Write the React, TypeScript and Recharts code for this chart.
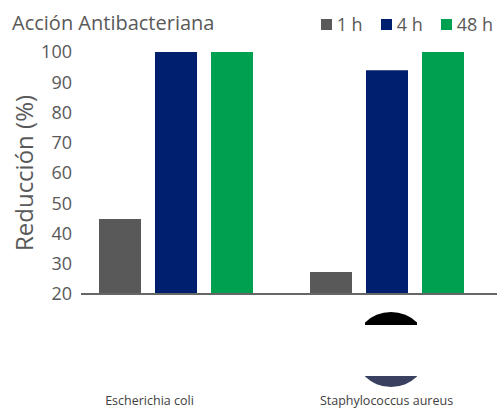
import React from "react";
import { BarChart, Bar, XAxis, YAxis, Label } from "recharts";

const categories = ["Escherichia coli", "Staphylococcus aureus"];
const series1h = [44.8, 27.3];
const series4h = [100, 94];
const series48h = [100, 100];
const yTicks = [20, 30, 40, 50, 60, 70, 80, 90, 100];
const seriesNames = ["1 h", "4 h", "48 h"];
const seriesColors = ["#595959", "#001F6E", "#00A051"];
const labelShift = [-26, 0];

const data = categories.map((c, i) => ({
  name: c,
  h1: series1h[i],
  h4: series4h[i],
  h48: series48h[i],
}));

const FONT = "'Open Sans', 'Noto Sans', sans-serif";

const CatTick = (props: any) => {
  const { x, y, payload, index } = props;
  return (
    <text
      x={x + (labelShift[index] || 0)}
      y={y + 103}
      textAnchor="middle"
      fontSize={12.5}
      fill="#404040"
      fontFamily={FONT}
    >
      {payload.value}
    </text>
  );
};

export default function App() {
  return (
    <div style={{ position: "absolute", left: 0, top: 0, width: 497, height: 408, background: "#fff" }}>
      <div
        style={{
          position: "absolute",
          left: 12,
          top: 9,
          fontFamily: FONT,
          fontSize: 20,
          color: "#595959",
          lineHeight: "28px",
          whiteSpace: "nowrap",
        }}
      >
        Acción Antibacteriana
      </div>
      <div
        style={{
          position: "absolute",
          right: 4,
          top: 14,
          display: "flex",
          alignItems: "center",
          fontFamily: FONT,
          fontSize: 18,
          color: "#595959",
        }}
      >
        {seriesNames.map((n, i) => (
          <div key={n} style={{ display: "flex", alignItems: "center", marginLeft: i === 0 ? 0 : 18 }}>
            <span style={{ width: 11, height: 11, background: seriesColors[i], display: "inline-block", marginRight: 5 }} />
            <span style={{ lineHeight: "20px" }}>{n}</span>
          </div>
        ))}
      </div>
      <BarChart
        width={497}
        height={408}
        data={data}
        margin={{ top: 52, right: 0, bottom: 0, left: 0 }}
        barSize={42}
        barGap={14}
        style={{ position: "absolute", left: 0, top: 0 }}
      >
        <XAxis
          dataKey="name"
          height={114}
          padding={{ left: -11, right: 5 }}
          axisLine={{ stroke: "#666666", strokeWidth: 2 }}
          tickLine={false}
          tick={<CatTick />}
          interval={0}
        />
        <YAxis
          width={81}
          domain={[20, 100]}
          ticks={yTicks}
          allowDataOverflow
          axisLine={false}
          tickLine={false}
          tickSize={0}
          tickMargin={9}
          tick={{ fontSize: 18, fill: "#595959", fontFamily: FONT }}
        >
          <Label
            content={() => (
              <text
                x={23}
                y={173}
                transform="rotate(-90, 23, 173)"
                textAnchor="middle"
                dominantBaseline="central"
                fontSize={24}
                fill="#595959"
                fontFamily={FONT}
              >
                Reducción (%)
              </text>
            )}
          />
        </YAxis>
        <Bar dataKey="h1" fill={seriesColors[0]} isAnimationActive={false} />
        <Bar dataKey="h4" fill={seriesColors[1]} isAnimationActive={false} />
        <Bar dataKey="h48" fill={seriesColors[2]} isAnimationActive={false} />
      </BarChart>
      <svg
        width={497}
        height={408}
        style={{ position: "absolute", left: 0, top: 0, pointerEvents: "none" }}
      >
        <defs>
          <clipPath id="topCut">
            <rect x={365} y={300} width={52} height={25} />
          </clipPath>
          <clipPath id="botCut">
            <rect x={365} y={376} width={52} height={20} />
          </clipPath>
        </defs>
        <circle cx={391} cy={349.5} r={37.5} fill="#000" clipPath="url(#topCut)" />
        <circle cx={391} cy={349.5} r={37.5} fill="#3A4060" clipPath="url(#botCut)" />
      </svg>
    </div>
  );
}
